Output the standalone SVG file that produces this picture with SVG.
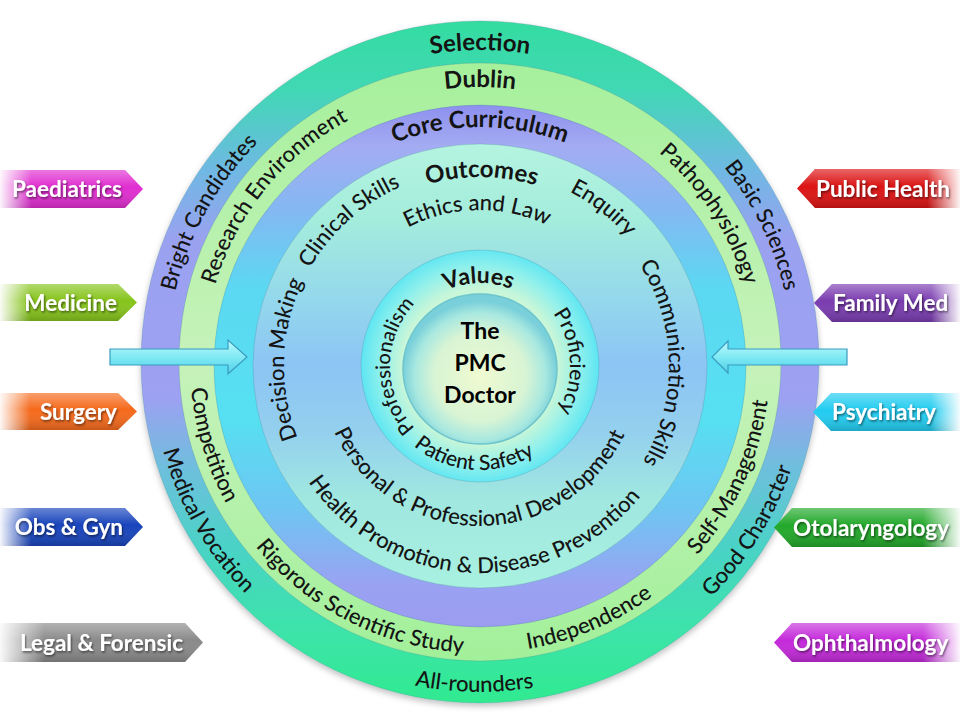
<svg xmlns="http://www.w3.org/2000/svg" xmlns:xlink="http://www.w3.org/1999/xlink" width="960" height="720" viewBox="0 0 960 720">
<style>
.t{font-family:Lato,"Liberation Sans",sans-serif;font-size:22px;font-weight:500;fill:#141414}
.b{font-weight:bold;font-size:24px}
.tab{font-family:Lato,"Liberation Sans",sans-serif;font-weight:bold;font-size:22.5px;fill:#fff}
.ring{stroke:#3a7f90;stroke-opacity:0.25;stroke-width:1}
.arrow{fill:url(#gArrow);stroke:#3a9cc0;stroke-width:1.2}
</style>
<defs>
<linearGradient id="gOuter" x1="0" y1="0" x2="0" y2="1">
<stop offset="0" stop-color="#34dca0"/><stop offset="0.1" stop-color="#40d8b4"/><stop offset="0.22" stop-color="#70b8e4"/><stop offset="0.32" stop-color="#9aa2f0"/><stop offset="0.55" stop-color="#9ea0f2"/><stop offset="0.66" stop-color="#6cc0dc"/><stop offset="0.78" stop-color="#48d4c4"/><stop offset="0.9" stop-color="#3ce4a8"/><stop offset="1" stop-color="#30ea90"/>
</linearGradient>
<linearGradient id="gDublin" x1="0" y1="0" x2="0" y2="1">
<stop offset="0" stop-color="#a6f09c"/><stop offset="0.5" stop-color="#c6f2ba"/><stop offset="1" stop-color="#a2f09a"/>
</linearGradient>
<linearGradient id="gCore" x1="0" y1="0" x2="0" y2="1">
<stop offset="0" stop-color="#8e90ee"/><stop offset="0.08" stop-color="#a4acf2"/><stop offset="0.2" stop-color="#84b8f2"/><stop offset="0.35" stop-color="#5cd8f2"/><stop offset="0.6" stop-color="#56e0f2"/><stop offset="0.78" stop-color="#70c4f2"/><stop offset="0.92" stop-color="#9aa2f2"/><stop offset="1" stop-color="#9c9cf0"/>
</linearGradient>
<linearGradient id="gOut" x1="0" y1="0" x2="0" y2="1">
<stop offset="0" stop-color="#b4f4e0"/><stop offset="0.17" stop-color="#a4ecdc"/><stop offset="0.35" stop-color="#94d8ec"/><stop offset="0.5" stop-color="#8cc4f4"/><stop offset="0.65" stop-color="#94d0ee"/><stop offset="0.8" stop-color="#a0e8e0"/><stop offset="1" stop-color="#a8f0e0"/>
</linearGradient>
<radialGradient id="gValues" cx="480" cy="366" r="118" gradientUnits="userSpaceOnUse">
<stop offset="0.66" stop-color="#c8f6d8"/><stop offset="0.85" stop-color="#8ef0ec"/><stop offset="1" stop-color="#60e6f2"/>
</radialGradient>
<radialGradient id="gInner" cx="0.5" cy="0.55" r="0.5">
<stop offset="0" stop-color="#f0fad0"/><stop offset="0.6" stop-color="#d8f4d4"/><stop offset="0.85" stop-color="#a8e8e0"/><stop offset="1" stop-color="#7ad0da"/>
</radialGradient>
<linearGradient id="gArrow" x1="0" y1="0" x2="0" y2="1">
<stop offset="0" stop-color="#c0fafc"/><stop offset="0.5" stop-color="#80eaf4"/><stop offset="1" stop-color="#50d0e8"/>
</linearGradient>
<linearGradient id="fadeL" x1="0" y1="0" x2="1" y2="0">
<stop offset="0" stop-color="#fff" stop-opacity="0.95"/><stop offset="0.22" stop-color="#fff" stop-opacity="0"/>
</linearGradient>
<linearGradient id="fadeR" x1="0" y1="0" x2="1" y2="0">
<stop offset="0.8" stop-color="#fff" stop-opacity="0"/><stop offset="1" stop-color="#fff" stop-opacity="0.95"/>
</linearGradient>
<linearGradient id="sheen" x1="0" y1="0" x2="0" y2="1">
<stop offset="0" stop-color="#fff" stop-opacity="0.35"/><stop offset="0.45" stop-color="#fff" stop-opacity="0"/><stop offset="1" stop-color="#000" stop-opacity="0.18"/>
</linearGradient>
<filter id="ts" x="-10%" y="-30%" width="120%" height="160%">
<feDropShadow dx="1" dy="1.5" stdDeviation="1" flood-color="#000" flood-opacity="0.55"/>
</filter>
<filter id="sh" x="-5%" y="-5%" width="110%" height="110%">
<feDropShadow dx="0" dy="3" stdDeviation="3" flood-color="#000" flood-opacity="0.25"/>
</filter>
<path id="a313" d="M 167 363 A 313 313 0 0 1 793 363"/>
<path id="a276" d="M 204 363 A 276 276 0 0 1 756 363"/>
<path id="c329" d="M 151 363 A 329 329 0 0 0 809 363"/>
<path id="c290" d="M 190 363 A 290 290 0 0 0 770 363"/>
<path id="a239" d="M 241 366 A 239 239 0 0 1 719 366"/>
<path id="a189" d="M 291 366 A 189 189 0 0 1 669 366"/>
<path id="a196" d="M 284 366 A 196 196 0 0 1 676 366"/>
<path id="a156" d="M 324 366 A 156 156 0 0 1 636 366"/>
<path id="c160" d="M 320 366 A 160 160 0 0 0 640 366"/>
<path id="c207" d="M 273 366 A 207 207 0 0 0 687 366"/>
<path id="a83" d="M 397 366 A 83 83 0 0 1 563 366"/>
<path id="a90" d="M 390 366 A 90 90 0 0 1 570 366"/>
<path id="c104" d="M 376 366 A 104 104 0 0 0 584 366"/>
</defs>
<rect width="960" height="720" fill="#fff"/>

<g id="selection">
<ellipse class="ring" cx="480" cy="362" rx="339" ry="341" fill="url(#gOuter)" filter="url(#sh)"/>
<text class="t b"><textPath href="#a313" startOffset="50%" text-anchor="middle">Selection</textPath></text>
<text class="t" transform="rotate(-61 480 363)"><textPath href="#a313" startOffset="50%" text-anchor="middle">Bright Candidates</textPath></text>
<text class="t" transform="rotate(64 480 363)"><textPath href="#a313" startOffset="50%" text-anchor="middle">Basic Sciences</textPath></text>
<text class="t" transform="rotate(60 480 363)"><textPath href="#c329" startOffset="50%" text-anchor="middle">Medical Vocation</textPath></text>
<text class="t" transform="rotate(-58 480 363)"><textPath href="#c329" startOffset="50%" text-anchor="middle">Good Character</textPath></text>
<text class="t" transform="rotate(1 480 363)"><textPath href="#c329" startOffset="50%" text-anchor="middle">All-rounders</textPath></text>
</g>

<g id="dublin">
<ellipse class="ring" cx="480" cy="362" rx="301" ry="299" fill="url(#gDublin)"/>
<text class="t b"><textPath href="#a276" startOffset="50%" text-anchor="middle">Dublin</textPath></text>
<text class="t" transform="rotate(-51 480 363)"><textPath href="#a276" startOffset="50%" text-anchor="middle">Research Environment</textPath></text>
<text class="t" transform="rotate(57 480 363)"><textPath href="#a276" startOffset="50%" text-anchor="middle">Pathophysiology</textPath></text>
<text class="t" transform="rotate(73 480 363)"><textPath href="#c290" startOffset="50%" text-anchor="middle">Competition</textPath></text>
<text class="t" transform="rotate(27 480 363)"><textPath href="#c290" startOffset="50%" text-anchor="middle">Rigorous Scientific Study</textPath></text>
<text class="t" transform="rotate(-23 480 363)"><textPath href="#c290" startOffset="50%" text-anchor="middle">Independence</textPath></text>
<text class="t" transform="rotate(-65.5 480 363)"><textPath href="#c290" startOffset="50%" text-anchor="middle">Self-Management</textPath></text>
</g>

<g id="core-curriculum">
<ellipse class="ring" cx="480" cy="366" rx="266" ry="261" fill="url(#gCore)"/>
<text class="t b"><textPath href="#a239" startOffset="50%" text-anchor="middle">Core Curriculum</textPath></text>
</g>

<g id="outcomes">
<ellipse class="ring" cx="480" cy="366" rx="227" ry="222" fill="url(#gOut)"/>
<text class="t b" transform="rotate(0.5 480 366)"><textPath href="#a189" startOffset="50%" text-anchor="middle">Outcomes</textPath></text>
<text class="t" transform="rotate(-42 480 366)"><textPath href="#a196" startOffset="50%" text-anchor="middle">Clinical Skills</textPath></text>
<text class="t" transform="rotate(38 480 366)"><textPath href="#a196" startOffset="50%" text-anchor="middle">Enquiry</textPath></text>
<text class="t" transform="rotate(89 480 366)"><textPath href="#a189" startOffset="50%" text-anchor="middle">Communication Skills</textPath></text>
<text class="t" transform="rotate(-88 480 366)"><textPath href="#a196" startOffset="50%" text-anchor="middle">Decision Making</textPath></text>
<text class="t" transform="rotate(-1 480 366)"><textPath href="#a156" startOffset="50%" text-anchor="middle">Ethics and Law</textPath></text>
<text class="t" transform="rotate(0.5 480 366)"><textPath href="#c160" startOffset="50%" text-anchor="middle">Personal &amp; Professional Development</textPath></text>
<text class="t" transform="rotate(2.5 480 366)"><textPath href="#c207" startOffset="50%" text-anchor="middle">Health Promotion &amp; Disease Prevention</textPath></text>
</g>

<g id="values">
<ellipse class="ring" cx="480" cy="366" rx="119" ry="116" fill="url(#gValues)"/>
<text class="t b" style="font-size:23px" transform="rotate(-1 480 366)"><textPath href="#a83" startOffset="50%" text-anchor="middle">Values</textPath></text>
<text class="t" style="font-size:20px" transform="rotate(-90 480 366)"><textPath href="#a90" startOffset="50%" text-anchor="middle">Professionalism</textPath></text>
<text class="t" style="font-size:21px" transform="rotate(87 480 366)"><textPath href="#a90" startOffset="50%" text-anchor="middle">Proficiency</textPath></text>
<text class="t" style="font-size:21px" transform="rotate(4 480 366)"><textPath href="#c104" startOffset="50%" text-anchor="middle">Patient Safety</textPath></text>
</g>

<g id="pmc-doctor">
<ellipse cx="480" cy="369" rx="77" ry="75" fill="url(#gInner)" stroke="#6cc4cc" stroke-width="1.5"/>
<text class="t b" style="font-size:23px;fill:#000" text-anchor="middle"><tspan x="480" y="339">The</tspan><tspan x="480" y="371">PMC</tspan><tspan x="480" y="403">Doctor</tspan></text>
</g>

<g id="connectors">
<polygon class="arrow" points="110,349 228,349 228,340 247,357 228,374 228,365 110,365"/>
<polygon class="arrow" points="847,349 728,349 728,341 712,357 728,373 728,365 847,365"/>
</g>

<g id="tab-paediatrics">
<polygon points="0,170 125,170 143,189 125,208 0,208" fill="#e02ed0"/>
<polygon points="0,170 125,170 143,189 125,208 0,208" fill="url(#sheen)"/>
<polygon points="0,170 125,170 143,189 125,208 0,208" fill="url(#fadeL)"/>
<text class="tab" x="122" y="197" text-anchor="end" filter="url(#ts)">Paediatrics</text>
</g>
<g id="tab-medicine">
<polygon points="0,284 118,284 137,302.5 118,321 0,321" fill="#86c41c"/>
<polygon points="0,284 118,284 137,302.5 118,321 0,321" fill="url(#sheen)"/>
<polygon points="0,284 118,284 137,302.5 118,321 0,321" fill="url(#fadeL)"/>
<text class="tab" x="117" y="311" text-anchor="end" filter="url(#ts)">Medicine</text>
</g>
<g id="tab-surgery">
<polygon points="0,393 118,393 137,411.5 118,430 0,430" fill="#f56a1c"/>
<polygon points="0,393 118,393 137,411.5 118,430 0,430" fill="url(#sheen)"/>
<polygon points="0,393 118,393 137,411.5 118,430 0,430" fill="url(#fadeL)"/>
<text class="tab" x="117" y="420" text-anchor="end" filter="url(#ts)">Surgery</text>
</g>
<g id="tab-obs-gyn">
<polygon points="0,508 125,508 143,527 125,546 0,546" fill="#1844bc"/>
<polygon points="0,508 125,508 143,527 125,546 0,546" fill="url(#sheen)"/>
<polygon points="0,508 125,508 143,527 125,546 0,546" fill="url(#fadeL)"/>
<text class="tab" x="123" y="535" text-anchor="end" filter="url(#ts)">Obs &amp; Gyn</text>
</g>
<g id="tab-legal-forensic">
<polygon points="0,623 185,623 203,642.5 185,662 0,662" fill="#8a8a8a"/>
<polygon points="0,623 185,623 203,642.5 185,662 0,662" fill="url(#sheen)"/>
<polygon points="0,623 185,623 203,642.5 185,662 0,662" fill="url(#fadeL)"/>
<text class="tab" x="183" y="651" text-anchor="end" filter="url(#ts)">Legal &amp; Forensic</text>
</g>

<g id="tab-public-health">
<polygon points="960,169 815,169 797,188.5 815,208 960,208" fill="#dc1414"/>
<polygon points="960,169 815,169 797,188.5 815,208 960,208" fill="url(#sheen)"/>
<polygon points="960,169 815,169 797,188.5 815,208 960,208" fill="url(#fadeR)"/>
<text class="tab" x="816" y="197" filter="url(#ts)">Public Health</text>
</g>
<g id="tab-family-med">
<polygon points="960,284 832,284 814,303 832,322 960,322" fill="#7a3cb0"/>
<polygon points="960,284 832,284 814,303 832,322 960,322" fill="url(#sheen)"/>
<polygon points="960,284 832,284 814,303 832,322 960,322" fill="url(#fadeR)"/>
<text class="tab" x="833" y="311" filter="url(#ts)">Family Med</text>
</g>
<g id="tab-psychiatry">
<polygon points="960,393 831,393 813,412 831,431 960,431" fill="#22ccf0"/>
<polygon points="960,393 831,393 813,412 831,431 960,431" fill="url(#sheen)"/>
<polygon points="960,393 831,393 813,412 831,431 960,431" fill="url(#fadeR)"/>
<text class="tab" x="832" y="420" filter="url(#ts)">Psychiatry</text>
</g>
<g id="tab-otolaryngology">
<polygon points="960,508 792,508 774,527.5 792,547 960,547" fill="#22a82a"/>
<polygon points="960,508 792,508 774,527.5 792,547 960,547" fill="url(#sheen)"/>
<polygon points="960,508 792,508 774,527.5 792,547 960,547" fill="url(#fadeR)"/>
<text class="tab" x="793" y="536" filter="url(#ts)">Otolaryngology</text>
</g>
<g id="tab-ophthalmology">
<polygon points="960,623 792,623 774,642.5 792,662 960,662" fill="#c42ada"/>
<polygon points="960,623 792,623 774,642.5 792,662 960,662" fill="url(#sheen)"/>
<polygon points="960,623 792,623 774,642.5 792,662 960,662" fill="url(#fadeR)"/>
<text class="tab" x="793" y="651" filter="url(#ts)">Ophthalmology</text>
</g>
</svg>
